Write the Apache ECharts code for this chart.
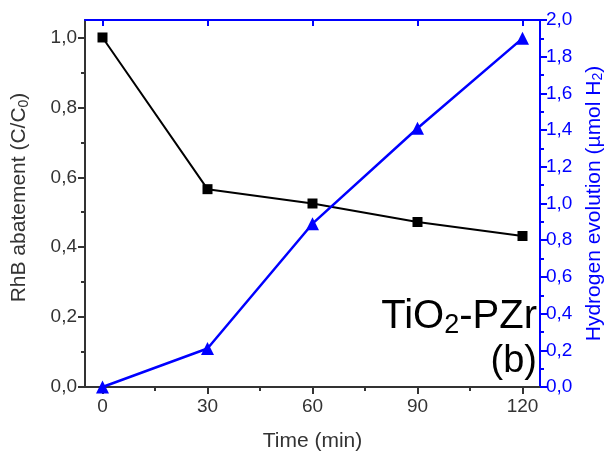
<!DOCTYPE html>
<html>
<head>
<meta charset="utf-8">
<script src="https://cdn.jsdelivr.net/npm/echarts@6/dist/echarts.min.js"></script>
<style>
  html, body { margin: 0; padding: 0; background: #fff; }
  #chart { width: 606px; height: 451px; }
</style>
</head>
<body>
<div id="chart"></div>
<script>
var times = [0, 30, 60, 90, 120];
var rhbValues = [1.0, 0.566, 0.525, 0.472, 0.432];
var h2Values = [0.0, 0.21, 0.89, 1.41, 1.9];
var xTicks = [0, 30, 60, 90, 120];
var xMinor = [15, 45, 75, 105];
var leftTicks = [0, 0.2, 0.4, 0.6, 0.8, 1.0];
var leftMinor = [0.1, 0.3, 0.5, 0.7, 0.9];
var rightTicks = [0, 0.2, 0.4, 0.6, 0.8, 1.0, 1.2, 1.4, 1.6, 1.8, 2.0];
var rightMinor = [0.1, 0.3, 0.5, 0.7, 0.9, 1.1, 1.3, 1.5, 1.7, 1.9];

var FONT = "Liberation Sans";
var DARK = "#333";
var BLUE = "#0000ff";

function comma(v) {
  return v.toFixed(1).replace(".", ",");
}

var myChart = echarts.init(document.getElementById("chart"));

var option = {
  animation: false,
  grid: { left: 85, right: 66, top: 20, bottom: 64, outerBoundsMode: "none", containLabel: false },
  xAxis: [
    {
      type: "value", position: "bottom", min: -5, max: 125,
      name: "Time (min)", nameLocation: "middle", nameGap: 44,
      nameTextStyle: { fontFamily: FONT, fontSize: 21, color: DARK },
      axisLine: { onZero: false, lineStyle: { color: DARK, width: 2 } },
      axisTick: { customValues: xTicks, length: 7, lineStyle: { color: DARK, width: 2 } },
      axisLabel: { customValues: xTicks, fontFamily: FONT, fontSize: 19, color: DARK, margin: 10 },
      splitLine: { show: false }
    },
    {
      type: "value", position: "bottom", min: -5, max: 125,
      axisLine: { show: false, onZero: false },
      axisTick: { customValues: xMinor, length: 4, lineStyle: { color: DARK, width: 2 } },
      axisLabel: { show: false },
      splitLine: { show: false }
    },
    {
      type: "value", position: "top", min: -5, max: 125,
      axisLine: { onZero: false, lineStyle: { color: BLUE, width: 2 } },
      axisTick: { customValues: xTicks, inside: true, length: 6, lineStyle: { color: BLUE, width: 2 } },
      axisLabel: { show: false },
      splitLine: { show: false }
    }
  ],
  yAxis: [
    {
      type: "value", position: "left", min: 0, max: 1.05, offset: 0,
      name: "RhB abatement (C/C{sub|0})", nameLocation: "middle", nameGap: 54,
      nameTextStyle: {
        fontFamily: FONT, fontSize: 21, color: DARK, padding: [0, 0, 0, 12],
        rich: { sub: { fontFamily: FONT, fontSize: 14, color: DARK, padding: [9, 0, 0, 0] } }
      },
      axisLine: { onZero: false, lineStyle: { color: DARK, width: 2 } },
      axisTick: { customValues: leftTicks, length: 7, lineStyle: { color: DARK, width: 2 } },
      axisLabel: { customValues: leftTicks, formatter: comma, fontFamily: FONT, fontSize: 19, color: DARK, margin: 8 },
      splitLine: { show: false }
    },
    {
      type: "value", position: "left", min: 0, max: 1.05, offset: 0,
      axisLine: { show: false, onZero: false },
      axisTick: { customValues: leftMinor, length: 4, lineStyle: { color: DARK, width: 2 } },
      axisLabel: { show: false },
      splitLine: { show: false }
    },
    {
      type: "value", position: "right", min: 0, max: 2.0, interval: 0.2, offset: 0,
      name: "Hydrogen evolution (\u00b5mol H{sub|2})", nameLocation: "middle", nameGap: 42,
      nameRotate: 90,
      nameTextStyle: {
        fontFamily: FONT, fontSize: 21, color: BLUE,
        rich: { sub: { fontFamily: FONT, fontSize: 14, color: BLUE, padding: [9, 0, 0, 0] } }
      },
      axisLine: { onZero: false, lineStyle: { color: BLUE, width: 2 } },
      axisTick: { customValues: rightTicks, length: 7, lineStyle: { color: BLUE, width: 2 } },
      axisLabel: { customValues: rightTicks, formatter: comma, fontFamily: FONT, fontSize: 19, color: BLUE, margin: 6 },
      splitLine: { show: false }
    },
    {
      type: "value", position: "right", min: 0, max: 2.0, offset: 0,
      axisLine: { show: false, onZero: false },
      axisTick: { customValues: rightMinor, length: 4, lineStyle: { color: BLUE, width: 2 } },
      axisLabel: { show: false },
      splitLine: { show: false }
    }
  ],
  graphic: [
    {
      type: "text", right: 69, top: 297, z: 10,
      style: {
        text: "TiO{s|2}-PZr", fill: "#000", fontFamily: FONT, fontSize: 40,
        rich: { s: { fontFamily: FONT, fontSize: 27, fill: "#000", padding: [18, 0, 0, 0] } }
      }
    },
    {
      type: "text", right: 69, top: 343, z: 10,
      style: { text: "(b)", fill: "#000", fontFamily: FONT, fontSize: 38 }
    }
  ],
  series: [
    {
      name: "RhB", type: "line", xAxisIndex: 0, yAxisIndex: 0,
      data: times.map(function (t, i) { return [t, rhbValues[i]]; }),
      symbol: "rect", symbolSize: 10,
      lineStyle: { color: "#000", width: 2 },
      itemStyle: { color: "#000" }
    },
    {
      name: "H2", type: "line", xAxisIndex: 0, yAxisIndex: 2,
      data: times.map(function (t, i) { return [t, h2Values[i]]; }),
      symbol: "triangle", symbolSize: 13,
      lineStyle: { color: BLUE, width: 2.5 },
      itemStyle: { color: BLUE }
    }
  ]
};

myChart.setOption(option);
</script>
</body>
</html>
